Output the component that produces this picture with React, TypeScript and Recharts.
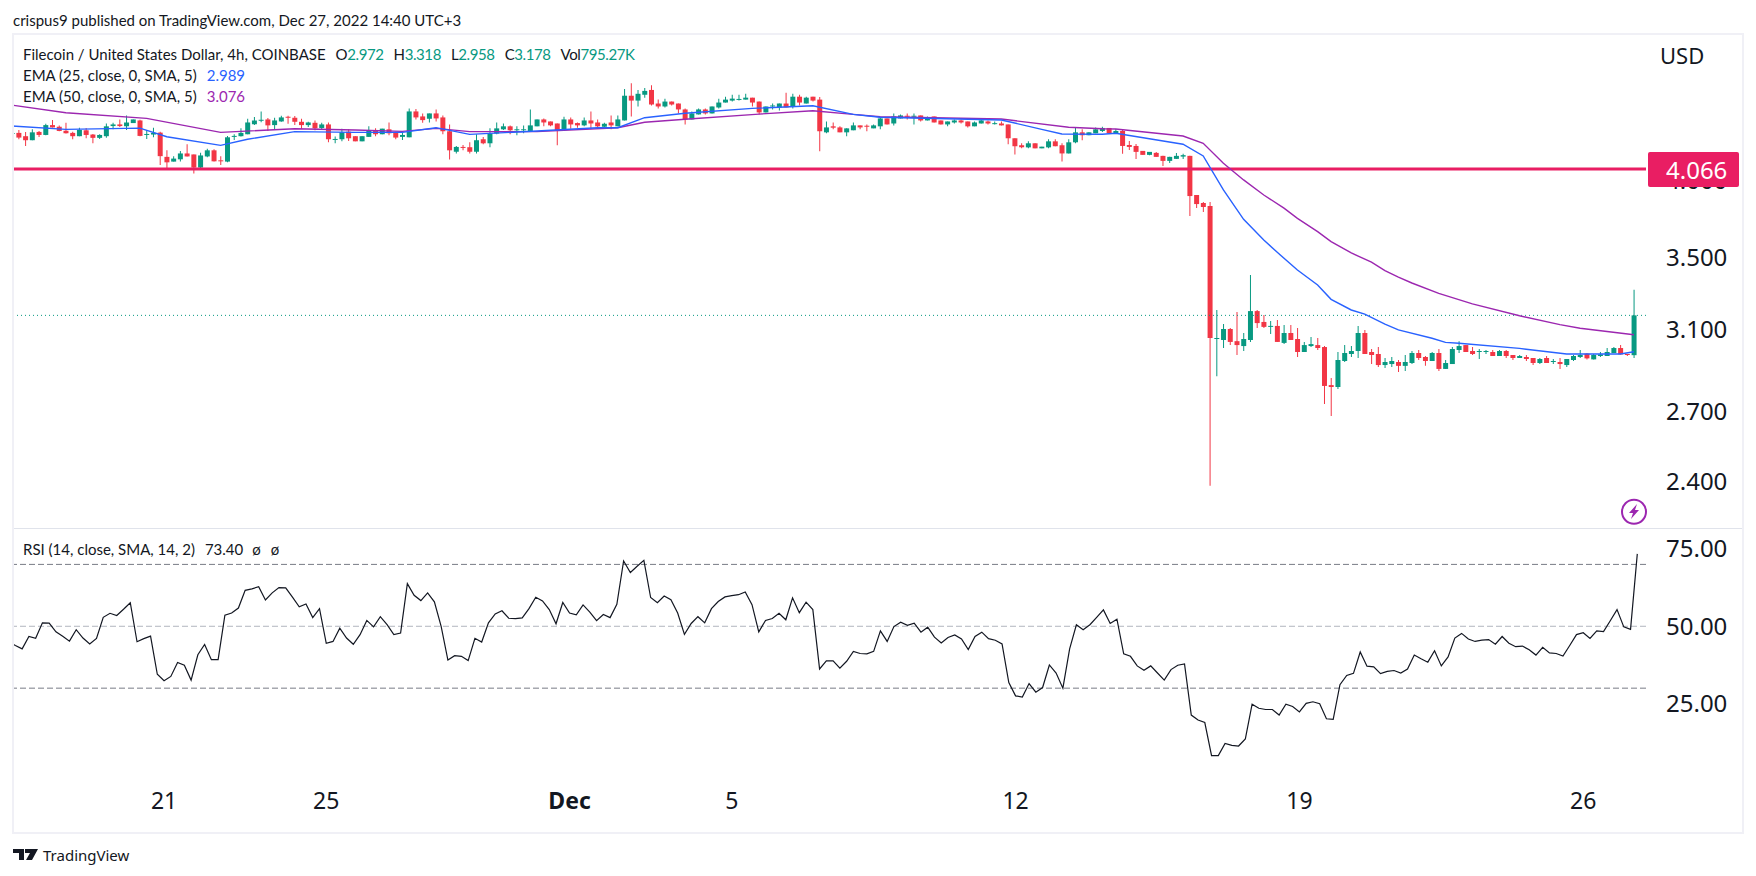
// FIL/USD 4h candles with EMA 25/50 and an RSI pane below
import { Bar, Cell, ComposedChart, Line, ReferenceLine, XAxis, YAxis } from 'recharts'

const UP = '#089981'
const DOWN = '#f23645'
const EMA25 = '#2962ff'
const EMA50 = '#9c27b0'
const LEVEL = '#e91e63'
const INK = '#131722'
const FONT = '"Noto Sans", sans-serif'
const LEGEND_FONT = 'Lato, sans-serif'

const opens = [
  4.313, 4.321, 4.297, 4.268, 4.328, 4.306, 4.378, 4.366, 4.337, 4.321,
  4.297, 4.340, 4.309, 4.285, 4.297, 4.371, 4.383, 4.369, 4.393, 4.4125,
  4.306, 4.309, 4.323, 4.150, 4.117, 4.133, 4.174, 4.167, 4.076, 4.153,
  4.196, 4.124, 4.117, 4.292, 4.297, 4.311, 4.385, 4.41, 4.42, 4.378,
  4.405, 4.4375, 4.4325, 4.4025, 4.378, 4.395, 4.357, 4.383, 4.27, 4.275,
  4.33, 4.297, 4.26, 4.292, 4.342, 4.311, 4.347, 4.323, 4.292, 4.289,
  4.48, 4.4425, 4.425, 4.465, 4.435, 4.333, 4.186, 4.218, 4.218, 4.186,
  4.275, 4.246, 4.316, 4.347, 4.369, 4.34, 4.34, 4.335, 4.369, 4.42,
  4.405, 4.39, 4.34, 4.42, 4.393, 4.376, 4.4125, 4.3975, 4.366, 4.3975,
  4.369, 4.4125, 4.60, 4.5625, 4.6075, 4.645, 4.54, 4.5175, 4.555, 4.54,
  4.495, 4.42, 4.4575, 4.495, 4.465, 4.51, 4.5475, 4.5625, 4.5675, 4.57,
  4.585, 4.555, 4.4725, 4.5175, 4.51, 4.54, 4.5175, 4.5925, 4.54, 4.5925,
  4.57, 4.325, 4.369, 4.361, 4.325, 4.34, 4.376, 4.371, 4.354, 4.369,
  4.4275, 4.39, 4.4275, 4.4475, 4.44, 4.45, 4.4125, 4.4425, 4.4125, 4.383,
  4.3975, 4.4125, 4.405, 4.369, 4.39, 4.405, 4.385, 4.39, 4.383, 4.282,
  4.232, 4.217, 4.246, 4.21, 4.217, 4.26, 4.232, 4.174, 4.253, 4.325,
  4.304, 4.318, 4.335, 4.357, 4.316, 4.335, 4.234, 4.227, 4.192, 4.164,
  4.178, 4.157, 4.122, 4.136, 4.152, 4.157, 3.892, 3.84, 3.82, 3.054,
  3.049, 3.106, 3.043, 3.018, 3.049, 3.201, 3.143, 3.117, 3.122, 3.034,
  3.085, 3.054, 2.988, 3.018, 3.023, 3.013, 2.826, 2.817, 2.943, 2.978,
  2.993, 3.085, 2.988, 2.978, 2.923, 2.928, 2.938, 2.919, 2.933, 2.983,
  2.963, 2.943, 2.983, 2.904, 2.928, 2.998, 3.023, 2.993, 2.988, 2.988,
  2.988, 2.968, 2.993, 2.973, 2.958, 2.963, 2.958, 2.933, 2.958, 2.938,
  2.938, 2.923, 2.948, 2.963, 2.98, 2.951, 2.968, 2.968, 2.983, 3.008,
  2.978, 2.972,
]

const highs = [
  4.32, 4.342, 4.328, 4.347, 4.335, 4.388, 4.415, 4.376, 4.395, 4.330,
  4.359, 4.357, 4.313, 4.311, 4.390, 4.395, 4.42, 4.45, 4.42, 4.4175,
  4.342, 4.359, 4.33, 4.196, 4.155, 4.191, 4.239, 4.167, 4.179, 4.208,
  4.203, 4.155, 4.299, 4.311, 4.354, 4.425, 4.4375, 4.48, 4.43, 4.4325,
  4.4475, 4.4475, 4.445, 4.425, 4.4025, 4.4125, 4.395, 4.3975, 4.294, 4.352,
  4.347, 4.297, 4.297, 4.369, 4.354, 4.352, 4.3975, 4.33, 4.323, 4.5025,
  4.4975, 4.465, 4.465, 4.495, 4.45, 4.383, 4.227, 4.234, 4.253, 4.311,
  4.292, 4.354, 4.3975, 4.39, 4.376, 4.369, 4.376, 4.495, 4.42, 4.4275,
  4.405, 4.39, 4.44, 4.435, 4.3975, 4.435, 4.48, 4.42, 4.395, 4.45,
  4.45, 4.6525, 4.6975, 4.645, 4.66, 4.6825, 4.57, 4.5775, 4.555, 4.54,
  4.5025, 4.48, 4.5025, 4.5025, 4.5175, 4.5775, 4.5925, 4.6075, 4.6075, 4.615,
  4.585, 4.555, 4.5175, 4.54, 4.54, 4.6225, 4.615, 4.6075, 4.5925, 4.5925,
  4.59, 4.405, 4.3975, 4.369, 4.354, 4.3975, 4.376, 4.383, 4.383, 4.435,
  4.4275, 4.465, 4.4575, 4.465, 4.465, 4.45, 4.4425, 4.4425, 4.4125, 4.405,
  4.42, 4.42, 4.405, 4.405, 4.42, 4.4125, 4.405, 4.405, 4.383, 4.282,
  4.246, 4.26, 4.246, 4.222, 4.275, 4.275, 4.246, 4.275, 4.361, 4.347,
  4.325, 4.361, 4.365, 4.357, 4.35, 4.342, 4.262, 4.241, 4.192, 4.185,
  4.185, 4.157, 4.15, 4.178, 4.171, 4.157, 3.892, 3.846, 3.846, 3.207,
  3.132, 3.111, 3.196, 3.085, 3.401, 3.207, 3.18, 3.148, 3.153, 3.127,
  3.127, 3.111, 3.039, 3.064, 3.059, 3.018, 2.86, 2.988, 3.023, 3.018,
  3.122, 3.101, 3.003, 3.013, 2.958, 2.963, 2.948, 2.973, 2.993, 2.998,
  2.968, 2.988, 3.003, 2.948, 3.013, 3.043, 3.023, 3.013, 3.003, 2.998,
  2.998, 2.998, 2.998, 2.973, 2.973, 2.973, 2.958, 2.958, 2.968, 2.953,
  2.958, 2.953, 2.973, 2.998, 2.983, 2.978, 2.988, 3.008, 3.013, 3.023,
  2.978, 3.318,
]

const lows = [
  4.31, 4.275, 4.227, 4.268, 4.292, 4.304, 4.361, 4.333, 4.316, 4.275,
  4.297, 4.282, 4.246, 4.277, 4.285, 4.347, 4.364, 4.342, 4.393, 4.297,
  4.277, 4.289, 4.093, 4.071, 4.117, 4.117, 4.153, 4.035, 4.069, 4.148,
  4.117, 4.093, 4.112, 4.27, 4.294, 4.311, 4.378, 4.40, 4.335, 4.342,
  4.4025, 4.388, 4.378, 4.352, 4.364, 4.34, 4.347, 4.253, 4.246, 4.26,
  4.263, 4.26, 4.26, 4.292, 4.297, 4.311, 4.304, 4.275, 4.27, 4.289,
  4.42, 4.395, 4.3975, 4.405, 4.311, 4.131, 4.174, 4.196, 4.174, 4.174,
  4.239, 4.217, 4.311, 4.342, 4.311, 4.304, 4.318, 4.335, 4.369, 4.369,
  4.369, 4.232, 4.34, 4.352, 4.359, 4.369, 4.347, 4.354, 4.349, 4.347,
  4.369, 4.4125, 4.4425, 4.5175, 4.585, 4.525, 4.5025, 4.51, 4.525, 4.465,
  4.383, 4.42, 4.4575, 4.4575, 4.465, 4.5025, 4.5475, 4.555, 4.5625, 4.57,
  4.5175, 4.4575, 4.4725, 4.495, 4.4875, 4.51, 4.5025, 4.525, 4.54, 4.555,
  4.189, 4.318, 4.347, 4.325, 4.297, 4.34, 4.347, 4.333, 4.354, 4.347,
  4.383, 4.376, 4.4275, 4.42, 4.383, 4.405, 4.4125, 4.3975, 4.383, 4.369,
  4.39, 4.39, 4.361, 4.369, 4.39, 4.383, 4.383, 4.376, 4.239, 4.167,
  4.21, 4.21, 4.21, 4.21, 4.21, 4.225, 4.117, 4.174, 4.246, 4.268,
  4.304, 4.318, 4.328, 4.318, 4.316, 4.171, 4.199, 4.136, 4.164, 4.162,
  4.15, 4.087, 4.108, 4.136, 4.136, 3.757, 3.807, 3.782, 2.385, 2.869,
  3.008, 3.023, 2.973, 2.993, 3.039, 3.111, 3.111, 3.08, 3.039, 3.028,
  3.049, 2.963, 2.988, 3.013, 2.998, 2.738, 2.683, 2.808, 2.938, 2.963,
  2.958, 2.978, 2.928, 2.914, 2.909, 2.914, 2.889, 2.894, 2.928, 2.948,
  2.919, 2.943, 2.894, 2.904, 2.928, 2.983, 2.988, 2.973, 2.953, 2.978,
  2.968, 2.968, 2.958, 2.948, 2.958, 2.943, 2.923, 2.928, 2.933, 2.928,
  2.904, 2.914, 2.943, 2.958, 2.951, 2.951, 2.963, 2.968, 2.983, 2.976,
  2.968, 2.958,
]

const closes = [
  4.318, 4.287, 4.268, 4.325, 4.306, 4.378, 4.361, 4.335, 4.318, 4.297,
  4.342, 4.306, 4.285, 4.306, 4.369, 4.383, 4.371, 4.3975, 4.42, 4.299,
  4.313, 4.321, 4.155, 4.112, 4.138, 4.174, 4.153, 4.076, 4.16, 4.196,
  4.119, 4.119, 4.289, 4.299, 4.321, 4.3975, 4.4125, 4.4175, 4.376, 4.4125,
  4.435, 4.4325, 4.4025, 4.378, 4.3975, 4.354, 4.383, 4.275, 4.273, 4.325,
  4.282, 4.26, 4.297, 4.342, 4.311, 4.352, 4.318, 4.287, 4.306, 4.48,
  4.435, 4.415, 4.465, 4.4275, 4.333, 4.196, 4.22, 4.213, 4.186, 4.268,
  4.246, 4.316, 4.354, 4.369, 4.34, 4.347, 4.347, 4.376, 4.42, 4.3975,
  4.376, 4.34, 4.42, 4.383, 4.376, 4.4125, 4.39, 4.369, 4.388, 4.376,
  4.42, 4.60, 4.5625, 4.615, 4.6375, 4.5325, 4.5175, 4.555, 4.5325, 4.495,
  4.42, 4.465, 4.495, 4.465, 4.5175, 4.5475, 4.57, 4.5775, 4.575, 4.585,
  4.5475, 4.4725, 4.5175, 4.525, 4.54, 4.51, 4.5925, 4.5475, 4.585, 4.5625,
  4.333, 4.361, 4.359, 4.325, 4.354, 4.376, 4.361, 4.366, 4.376, 4.4275,
  4.383, 4.4425, 4.45, 4.44, 4.445, 4.4125, 4.435, 4.3975, 4.383, 4.405,
  4.4125, 4.3975, 4.369, 4.3975, 4.4125, 4.39, 4.388, 4.376, 4.282, 4.225,
  4.217, 4.246, 4.21, 4.222, 4.26, 4.225, 4.174, 4.253, 4.325, 4.304,
  4.325, 4.347, 4.357, 4.318, 4.335, 4.227, 4.22, 4.185, 4.164, 4.185,
  4.15, 4.122, 4.15, 4.157, 4.162, 3.885, 3.833, 3.814, 3.059, 3.059,
  3.106, 3.039, 3.023, 3.054, 3.201, 3.137, 3.117, 3.122, 3.039, 3.085,
  3.049, 2.988, 3.023, 3.028, 3.008, 2.822, 2.817, 2.948, 2.983, 2.993,
  3.085, 2.978, 2.973, 2.923, 2.938, 2.943, 2.919, 2.938, 2.983, 2.958,
  2.943, 2.983, 2.904, 2.933, 3.003, 3.018, 2.988, 2.978, 2.991, 2.991,
  2.968, 2.993, 2.968, 2.958, 2.968, 2.953, 2.933, 2.953, 2.933, 2.941,
  2.928, 2.953, 2.968, 2.973, 2.956, 2.973, 2.976, 2.988, 3.008, 2.976,
  2.973, 3.178,
]

// EMA lines are smooth, so they are read at the bars where they bend
const ema25Bars = [0, 8, 19, 23, 31, 35, 42, 51, 58, 63, 68, 78, 87, 90, 94, 100, 110, 119, 125, 129, 147, 153, 156, 162, 164, 174, 177, 180, 183, 186, 188, 191, 194, 196, 199, 201, 204, 206, 211, 213, 215, 224, 231, 239, 241]
const ema25Values = [4.371, 4.347, 4.356, 4.293, 4.231, 4.275, 4.330, 4.325, 4.325, 4.359, 4.310, 4.335, 4.359, 4.359, 4.433, 4.466, 4.503, 4.523, 4.458, 4.436, 4.416, 4.347, 4.313, 4.311, 4.318, 4.239, 4.156, 3.925, 3.736, 3.608, 3.534, 3.430, 3.345, 3.265, 3.207, 3.185, 3.132, 3.101, 3.058, 3.037, 3.032, 3.006, 2.978, 2.978, 2.989]

const ema50Bars = [0, 8, 20, 31, 34, 42, 51, 58, 63, 68, 78, 90, 94, 100, 111, 119, 125, 129, 147, 157, 162, 164, 174, 177, 180, 183, 186, 189, 191, 194, 196, 199, 202, 204, 206, 208, 212, 217, 224, 230, 233, 237, 241]
const ema50Values = [4.528, 4.470, 4.428, 4.325, 4.332, 4.351, 4.342, 4.332, 4.354, 4.330, 4.330, 4.359, 4.399, 4.421, 4.460, 4.485, 4.458, 4.440, 4.423, 4.362, 4.351, 4.349, 4.298, 4.246, 4.105, 3.992, 3.892, 3.807, 3.742, 3.659, 3.598, 3.530, 3.476, 3.427, 3.390, 3.356, 3.298, 3.240, 3.176, 3.129, 3.110, 3.093, 3.076]

const rsiValues = [
  45.0, 43.8, 42.7, 46.7, 46.1, 51.1, 51.0, 48.2, 46.8, 45.2,
  48.9, 46.2, 44.3, 46.1, 52.9, 54.2, 53.5, 55.5, 57.6, 45.0,
  46.0, 46.8, 34.5, 32.4, 33.8, 38.3, 37.4, 32.6, 40.8, 44.1,
  39.2, 39.2, 53.6, 54.3, 55.9, 61.6, 62.1, 62.8, 58.5, 60.8,
  62.5, 62.4, 59.4, 56.3, 57.2, 52.8, 55.7, 44.5, 45.1, 49.4,
  46.2, 44.2, 47.3, 51.9, 49.8, 53.1, 50.5, 47.3, 47.8, 63.8,
  60.0, 58.3, 60.8, 57.9, 50.0, 39.1, 40.5, 40.3, 38.9, 46.1,
  44.9, 51.1, 54.0, 55.0, 52.6, 52.5, 52.7, 55.7, 59.4, 58.2,
  55.4, 50.8, 57.7, 54.3, 53.7, 56.9, 54.6, 51.8, 53.8, 52.8,
  57.1, 71.1, 67.4, 69.4, 71.3, 59.3, 57.6, 59.8, 58.6, 54.3,
  47.4, 50.9, 53.1, 51.1, 55.7, 58.0, 59.5, 59.9, 60.2, 61.1,
  57.0, 48.2, 51.9, 52.5, 54.2, 52.1, 59.2, 54.4, 57.8, 55.4,
  36.2, 38.8, 38.8, 36.5, 38.7, 41.9, 41.2, 41.1, 41.9, 48.5,
  45.1, 49.9, 51.3, 50.3, 51.0, 48.1, 49.7, 46.5, 44.6, 46.4,
  47.2, 45.9, 42.5, 46.7, 48.1, 46.0, 45.5, 44.3, 31.8, 27.5,
  27.1, 31.5, 28.7, 30.2, 37.5, 34.9, 30.0, 42.7, 50.5, 48.9,
  50.5, 52.9, 55.3, 50.9, 52.3, 41.1, 40.3, 37.2, 35.8, 37.2,
  34.9, 32.6, 36.0, 37.4, 37.8, 21.3, 19.7, 18.9, 8.2, 8.2,
  12.1, 11.5, 11.3, 13.6, 24.8, 23.5, 23.1, 23.1, 21.3, 24.8,
  24.1, 22.3, 25.1, 25.6, 25.0, 20.1, 19.9, 31.1, 34.1, 34.8,
  41.7, 37.1, 36.9, 34.7, 35.4, 35.7, 34.9, 36.2, 40.7, 39.5,
  38.4, 42.1, 37.2, 40.1, 46.2, 47.7, 45.9, 45.1, 45.5, 45.7,
  44.2, 46.7, 44.5, 43.4, 43.6, 42.4, 40.7, 43.2, 41.4, 41.2,
  40.4, 43.8, 47.3, 47.9, 46.1, 48.5, 48.3, 51.8, 55.4, 49.8,
  49.0, 73.40,
]

const dateTickBars = [23, 47, 83, 107, 149, 191, 233]
const dateTickLabels = ['21', '25', 'Dec', '5', '12', '19', '26']
const priceTicks = [2.4, 2.7, 3.1, 3.5, 4, 4.066]
const rsiTicks = [25, 50, 75]

const CHART_WIDTH = 1756
const PRICE_DOMAIN = [2.2217, 5.0866]
const RSI_DOMAIN = [3.55, 81.44]
const LAST_CLOSE = 3.178
const LEVEL_PRICE = 4.066

const rows = opens.map((open, i) => ({
  bar: i,
  wick: [lows[i], highs[i]],
  body: [Math.min(open, closes[i]), Math.max(open, closes[i])],
  up: closes[i] >= open,
  ema25: ema25Bars.includes(i) ? ema25Values[ema25Bars.indexOf(i)] : null,
  ema50: ema50Bars.includes(i) ? ema50Values[ema50Bars.indexOf(i)] : null,
  rsi: rsiValues[i],
}))

const textStyle = { fontFamily: FONT, fill: INK, fontSize: 24 }

function PriceTick({ x, y, payload }: any) {
  if (payload.value === LEVEL_PRICE) {
    return (
      <g>
        <rect x={x - 18} y={y - 17} width={91} height={35} rx={2} fill={LEVEL} />
        <text x={x} y={y} dominantBaseline="central" style={{ ...textStyle, fill: '#ffffff' }}>4.066</text>
      </g>
    )
  }
  // the 4.000 label pokes out from under the level tag
  const shift = payload.value === 4 ? 1 : -2
  return <text x={x} y={y + shift} dominantBaseline="central" style={textStyle}>{payload.value.toFixed(3)}</text>
}

function RsiTick({ x, y, payload }: any) {
  return <text x={x} y={y - 1} dominantBaseline="central" style={textStyle}>{payload.value.toFixed(2)}</text>
}

function DateTick({ x, y, payload }: any) {
  const label = dateTickLabels[dateTickBars.indexOf(payload.value)]
  return (
    <text x={x} y={y} textAnchor="middle" dominantBaseline="central"
      style={{ ...textStyle, fontSize: 23, fontWeight: label === 'Dec' ? 700 : 400 }}>
      {label}
    </text>
  )
}

function Legend() {
  const row = { position: 'absolute', left: 23, whiteSpace: 'pre', fontFamily: LEGEND_FONT, fontSize: 15, color: INK, lineHeight: '20px' } as const
  const item = { marginLeft: 10, letterSpacing: -0.4 }
  const green = { color: UP }
  return (
    <>
      <div style={{ ...row, left: 13, top: 10 }}>crispus9 published on TradingView.com, Dec 27, 2022 14:40 UTC+3</div>
      <div style={{ ...row, top: 44 }}>
        Filecoin / United States Dollar, 4h, COINBASE
        <span style={item}>O<span style={green}>2.972</span></span>
        <span style={item}>H<span style={green}>3.318</span></span>
        <span style={item}>L<span style={green}>2.958</span></span>
        <span style={item}>C<span style={green}>3.178</span></span>
        <span style={item}>Vol<span style={green}>795.27K</span></span>
      </div>
      <div style={{ ...row, top: 65 }}>EMA (25, close, 0, SMA, 5)<span style={{ marginLeft: 10, color: EMA25 }}>2.989</span></div>
      <div style={{ ...row, top: 86 }}>EMA (50, close, 0, SMA, 5)<span style={{ marginLeft: 10, color: EMA50 }}>3.076</span></div>
      <div style={{ ...row, top: 539 }}>
        RSI (14, close, SMA, 14, 2)<span style={{ marginLeft: 10 }}>73.40</span>
        <span style={{ marginLeft: 9 }}>ø</span><span style={{ marginLeft: 10 }}>ø</span>
      </div>
      <div style={{ ...row, left: 1660, top: 39, fontFamily: FONT, fontSize: 22, lineHeight: '32px' }}>USD</div>
      <div style={{ ...row, left: 43, top: 845, fontFamily: FONT, fontSize: 15 }}>TradingView</div>
    </>
  )
}

function Frame() {
  return (
    <>
      <div style={{ position: 'absolute', left: 0, top: 0, width: 12, height: 876, background: '#ffffff' }} />
      <div style={{ position: 'absolute', left: 12, top: 33, width: 1728, height: 797, border: '2px solid #f0f0f6' }} />
      <div style={{ position: 'absolute', left: 14, top: 528, width: 1728, height: 1, background: '#e0e3eb' }} />
      <svg style={{ position: 'absolute', left: 0, top: 0 }} width={CHART_WIDTH} height={876}>
        <circle cx={1634} cy={511.7} r={12} fill="#ffffff" stroke={EMA50} strokeWidth={2} />
        <path d="M1637 504 L1629 513 L1633 513 L1631 519 L1639 510 L1635 510 Z" fill={EMA50} />
        <path d="M13 849 h11 v11 h-5 v-7 h-6 Z M25 849 h13 l-6 11 h-6 l4 -7 h-5 Z" fill={INK} />
      </svg>
    </>
  )
}

export default function App() {
  return (
    <div style={{ position: 'absolute', left: 0, top: 0, width: CHART_WIDTH, height: 876, background: '#ffffff', overflow: 'hidden' }}>
      <div style={{ position: 'absolute', left: 0, top: 0 }}>
        <ComposedChart width={CHART_WIDTH} height={529} data={rows} margin={{ top: 36, right: 0, bottom: 1, left: 8.635 }}>
          <XAxis xAxisId="wick" dataKey="bar" hide padding={{ left: 0, right: 8.7 }} />
          <XAxis xAxisId="body" dataKey="bar" hide padding={{ left: 0, right: 8.7 }} />
          <YAxis orientation="right" width={110} scale="log" domain={PRICE_DOMAIN} allowDataOverflow
            ticks={priceTicks} interval={0} axisLine={false} tickLine={false} tickMargin={14} tick={<PriceTick />} />
          <ReferenceLine xAxisId="body" y={LEVEL_PRICE} stroke={LEVEL} strokeWidth={3} />
          <ReferenceLine xAxisId="body" y={LAST_CLOSE} stroke={UP} strokeWidth={1} strokeDasharray="1 3" />
          <Bar xAxisId="wick" dataKey="wick" barSize={1} isAnimationActive={false}>
            {rows.map((row) => <Cell key={row.bar} fill={row.up ? UP : DOWN} />)}
          </Bar>
          <Bar xAxisId="body" dataKey="body" barSize={5} minPointSize={1} isAnimationActive={false}>
            {rows.map((row) => <Cell key={row.bar} fill={row.up ? UP : DOWN} />)}
          </Bar>
          <Line xAxisId="body" dataKey="ema50" stroke={EMA50} strokeWidth={1.4} dot={false} connectNulls isAnimationActive={false} />
          <Line xAxisId="body" dataKey="ema25" stroke={EMA25} strokeWidth={1.4} dot={false} connectNulls isAnimationActive={false} />
        </ComposedChart>
      </div>
      <div style={{ position: 'absolute', left: 0, top: 529 }}>
        <ComposedChart width={CHART_WIDTH} height={303} data={rows} margin={{ top: 0, right: 0, bottom: 0, left: 8.635 }}>
          <XAxis dataKey="bar" height={62} padding={{ left: 0, right: 8.7 }} ticks={dateTickBars} interval={0}
            axisLine={false} tickLine={false} tickMargin={24} tick={<DateTick />} />
          <YAxis orientation="right" width={110} domain={RSI_DOMAIN} allowDataOverflow
            ticks={rsiTicks} interval={0} axisLine={false} tickLine={false} tickMargin={14} tick={<RsiTick />} />
          <ReferenceLine y={70} stroke="#787b86" strokeDasharray="6 3" />
          <ReferenceLine y={50} stroke="#b2b5be" strokeDasharray="6 3" />
          <ReferenceLine y={30} stroke="#787b86" strokeDasharray="6 3" />
          <Line dataKey="rsi" stroke="#131722" strokeWidth={1.2} dot={false} isAnimationActive={false} />
        </ComposedChart>
      </div>
      <Frame />
      <Legend />
    </div>
  )
}
